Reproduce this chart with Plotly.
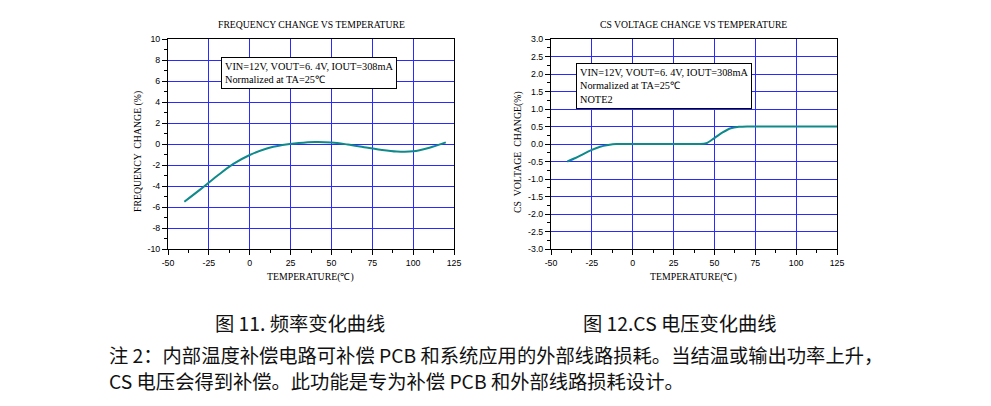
import plotly.graph_objects as go

W, H = 991, 406

# ---- data ----
freq_temp = [-40, -30, -20, -10, 0, 10, 20, 30, 40, 50, 60, 70, 80, 90, 100, 110, 120]
freq_change = [-5.5, -4.3, -3.05, -1.9, -1.05, -0.45, -0.1, 0.1, 0.2, 0.15, -0.05, -0.3, -0.55, -0.72, -0.7, -0.35, 0.15]

cs_temp = [-40, -35, -30, -25, -20, -15, -10, 0, 10, 20, 30, 40, 45, 50, 55, 60, 65, 70, 80, 100, 125]
cs_change = [-0.5, -0.4, -0.28, -0.17, -0.08, -0.03, 0, 0, 0, 0, 0, 0, 0.02, 0.17, 0.33, 0.45, 0.49, 0.5, 0.5, 0.5, 0.5]

freq_ticks = [-10, -8, -6, -4, -2, 0, 2, 4, 6, 8, 10]
cs_ticks = [-3.0, -2.5, -2.0, -1.5, -1.0, -0.5, 0.0, 0.5, 1.0, 1.5, 2.0, 2.5, 3.0]
temp_ticks = [-50, -25, 0, 25, 50, 75, 100, 125]

chart_titles = ["FREQUENCY CHANGE VS TEMPERATURE", "CS VOLTAGE CHANGE VS TEMPERATURE"]
x_title = "TEMPERATURE(℃)"
y_titles = ["FREQUENCY  CHANGE (%)", "CS  VOLTAGE  CHANGE(%)"]
box_texts = [
    "VIN=12V, VOUT=6. 4V, IOUT=308mA<br>Normalized at TA=25℃",
    "VIN=12V, VOUT=6. 4V, IOUT=308mA<br>Normalized at TA=25℃<br>NOTE2",
]
captions = ["图 11. 频率变化曲线", "图 12.CS 电压变化曲线"]
note_lines = [
    "注 2：内部温度补偿电路可补偿 PCB 和系统应用的外部线路损耗。当结温或输出功率上升，",
    "CS 电压会得到补偿。此功能是专为补偿 PCB 和外部线路损耗设计。",
]

LINE_COLOR = "#10898a"
GRID = "#2a2aff"
SERIF = "Liberation Serif"
SANS = "Liberation Sans"
CJK = "Noto Sans CJK SC"


def px(x):
    return x / W


def py(y):
    return 1 - y / H


fig = go.Figure()
fig.add_trace(go.Scatter(x=freq_temp, y=freq_change, mode="lines",
                         line=dict(color=LINE_COLOR, width=2, shape="spline", smoothing=1.0),
                         xaxis="x", yaxis="y", showlegend=False))
fig.add_trace(go.Scatter(x=cs_temp, y=cs_change, mode="lines",
                         line=dict(color=LINE_COLOR, width=2, shape="spline", smoothing=0.8),
                         xaxis="x2", yaxis="y2", showlegend=False))

common = dict(showgrid=True, gridcolor=GRID, gridwidth=1, showline=True, linecolor="black",
              linewidth=1, mirror=True, ticks="outside", ticklen=5, tickcolor="black",
              zeroline=False, automargin=False, tickmode="array",
              tickfont=dict(family=SANS, size=8.8, color="black"))

xticktext = ["%d" % v for v in temp_ticks]
ydom = [py(249), py(39)]
fig.update_layout(
    width=W, height=H, margin=dict(l=0, r=0, t=0, b=0, autoexpand=False),
    paper_bgcolor="white", plot_bgcolor="white",
    xaxis=dict(domain=[px(168), px(454)], range=[-50, 125], anchor="y",
               tickvals=temp_ticks, ticktext=xticktext,
               minor=dict(dtick=12.5, tick0=-50, ticks="outside", ticklen=3, tickcolor="black", showgrid=False),
               **common),
    yaxis=dict(domain=ydom, range=[-10, 10], anchor="x",
               tickvals=freq_ticks, ticktext=["%d" % v for v in freq_ticks],
               minor=dict(dtick=1, ticks="outside", ticklen=3, tickcolor="black", showgrid=False),
               **common),
    xaxis2=dict(domain=[px(551), px(837)], range=[-50, 125], anchor="y2",
                tickvals=temp_ticks, ticktext=xticktext,
                minor=dict(dtick=12.5, tick0=-50, ticks="outside", ticklen=3, tickcolor="black", showgrid=False),
                **common),
    yaxis2=dict(domain=ydom, range=[-3, 3], anchor="x2",
                tickvals=cs_ticks, ticktext=["%.1f" % v for v in cs_ticks],
                minor=dict(dtick=0.25, ticks="outside", ticklen=3, tickcolor="black", showgrid=False),
                **common),
)

ann = []
# chart titles
for t, cx in zip(chart_titles, [311, 693]):
    ann.append(dict(text=t, x=px(cx), y=py(25), xref="paper", yref="paper", showarrow=False,
                    xanchor="center", yanchor="middle", font=dict(family=SERIF, size=9.7, color="black")))
# x axis titles
for cx in [310, 693]:
    ann.append(dict(text=x_title, x=px(cx), y=py(277), xref="paper", yref="paper", showarrow=False,
                    xanchor="center", yanchor="middle", font=dict(family=SERIF, size=9.8, color="black")))
# y axis titles
for t, cx in zip(y_titles, [138, 518]):
    ann.append(dict(text=t, x=px(cx), y=py(152), xref="paper", yref="paper", showarrow=False,
                    textangle=-90, xanchor="center", yanchor="middle",
                    font=dict(family=SERIF, size=9.8, color="black")))
# boxes
ann.append(dict(text=box_texts[0], x=px(221), y=py(57), xref="paper", yref="paper", showarrow=False,
                xanchor="left", yanchor="top", align="left", bgcolor="white", bordercolor="black",
                borderwidth=1, borderpad=3, font=dict(family=SERIF, size=10.3, color="black")))
ann.append(dict(text=box_texts[1], x=px(576), y=py(63), xref="paper", yref="paper", showarrow=False,
                xanchor="left", yanchor="top", align="left", bgcolor="white", bordercolor="black",
                borderwidth=1, borderpad=3, font=dict(family=SERIF, size=10.3, color="black")))
# captions
for t, cx in zip(captions, [300, 680]):
    ann.append(dict(text=t, x=px(cx), y=py(323), xref="paper", yref="paper", showarrow=False,
                    xanchor="center", yanchor="middle", font=dict(family=CJK, size=19.3, color="#111")))
for t, cy in zip(note_lines, [355, 381]):
    ann.append(dict(text=t, x=px(107), y=py(cy), xref="paper", yref="paper", showarrow=False,
                    xanchor="left", yanchor="middle", font=dict(family=CJK, size=19.3, color="#111")))

fig.update_layout(annotations=ann)
fig.write_html("out.html")
